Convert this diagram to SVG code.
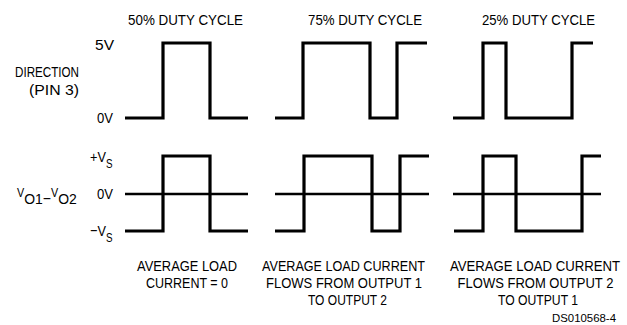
<svg xmlns="http://www.w3.org/2000/svg" width="627" height="325" viewBox="0 0 627 325">
<style>
text{font-family:"Liberation Sans",Arial,sans-serif;font-size:15.5px;fill:#000}
.m{text-anchor:middle}
.e{text-anchor:end}
.s{font-size:12px}
.w{fill:none;stroke:#000;stroke-width:3.2;stroke-linejoin:miter;stroke-linecap:butt}
.a{fill:none;stroke:#000;stroke-width:2.4}
.id{font-size:11.5px}
</style>
<rect width="627" height="325" fill="#fff"/>
<g id="titles">
<text class="m" x="185.5" y="25" textLength="115" lengthAdjust="spacingAndGlyphs">50% DUTY CYCLE</text>
<text class="m" x="365" y="25" textLength="114" lengthAdjust="spacingAndGlyphs">75% DUTY CYCLE</text>
<text class="m" x="538.5" y="25" textLength="113" lengthAdjust="spacingAndGlyphs">25% DUTY CYCLE</text>
</g>
<g id="axis-labels">
<text class="e" x="79" y="77" textLength="64" lengthAdjust="spacingAndGlyphs">DIRECTION</text>
<text class="e" x="79" y="95" textLength="50" lengthAdjust="spacingAndGlyphs">(PIN 3)</text>
<text x="95" y="50" textLength="19" lengthAdjust="spacingAndGlyphs">5V</text>
<text x="97" y="123" textLength="16" lengthAdjust="spacingAndGlyphs">0V</text>
<text transform="translate(90,162) scale(0.82,1)">+V<tspan class="s" dy="6">S</tspan></text>
<text x="97" y="199" textLength="16" lengthAdjust="spacingAndGlyphs">0V</text>
<text transform="translate(90,236) scale(0.82,1)">−V<tspan class="s" dy="6">S</tspan></text>
<text transform="translate(17,197) scale(0.9,1)"><tspan class="s">V</tspan><tspan dy="7">O1−</tspan><tspan class="s" dy="-7">V</tspan><tspan dy="7">O2</tspan></text>
</g>
<g id="direction-waves">
<path class="w" d="M125,118 H163 V43 H210 V118 H248"/>
<path class="w" d="M275,118 H303 V43 H370 V118 H397 V43 H427"/>
<path class="w" d="M453,118 H483 V43 H506 V118 H572 V43 H593"/>
</g>
<g id="output-waves">
<path class="a" d="M125,194 H248 M275,194 H429 M453,194 H601"/>
<path class="w" d="M125,231 H163 V156 H210 V231 H248"/>
<path class="w" d="M275,231 H304 V156 H372 V231 H400 V156 H429"/>
<path class="w" d="M454,231 H483 V156 H516 V231 H582 V156 H601"/>
</g>
<g id="notes">
<text class="m" x="187" y="271" textLength="100" lengthAdjust="spacingAndGlyphs">AVERAGE LOAD</text>
<text class="m" x="187" y="288" textLength="82" lengthAdjust="spacingAndGlyphs">CURRENT = 0</text>
<text class="m" x="343.5" y="271" textLength="163" lengthAdjust="spacingAndGlyphs">AVERAGE LOAD CURRENT</text>
<text class="m" x="344" y="288" textLength="156" lengthAdjust="spacingAndGlyphs">FLOWS FROM OUTPUT 1</text>
<text class="m" x="347.5" y="305" textLength="79" lengthAdjust="spacingAndGlyphs">TO OUTPUT 2</text>
<text class="m" transform="translate(535,271) scale(0.85,1)">AVERAGE LOAD CURRENT</text>
<text class="m" transform="translate(535.5,288) scale(0.84,1)">FLOWS FROM OUTPUT 2</text>
<text class="m" x="538" y="305" textLength="80" lengthAdjust="spacingAndGlyphs">TO OUTPUT 1</text>
<text class="id" x="552" y="322" textLength="64" lengthAdjust="spacingAndGlyphs">DS010568-4</text>
</g>
</svg>
